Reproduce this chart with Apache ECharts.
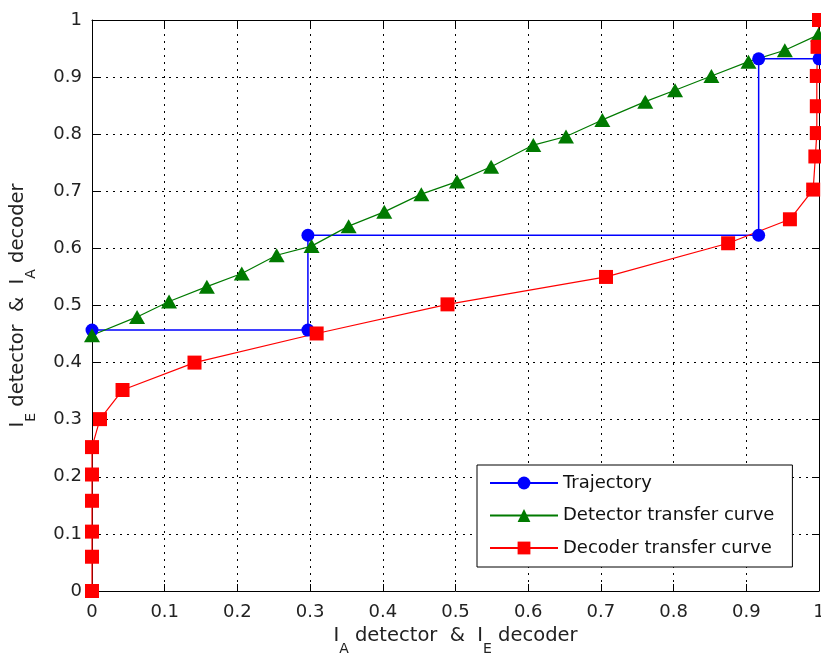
<!DOCTYPE html>
<html>
<head>
<meta charset="utf-8">
<script src="https://cdn.jsdelivr.net/npm/echarts@6/dist/echarts.min.js"></script>
<style>
  html, body { margin: 0; padding: 0; background: #fff; }
  #chart { width: 821px; height: 661px; }
</style>
</head>
<body>
<div id="chart"></div>
<script>
// values
const trajX = [0, 0.297, 0.297, 0.917, 0.917, 1.0];
const trajY = [0.457, 0.457, 0.623, 0.623, 0.932, 0.932];

const detX = [0, 0.062, 0.106, 0.158, 0.206, 0.254, 0.302, 0.353, 0.402, 0.453, 0.502,
  0.549, 0.607, 0.652, 0.702, 0.761, 0.802, 0.852, 0.903, 0.953, 0.999];
const detY = [0.448, 0.480, 0.507, 0.533, 0.556, 0.588, 0.604, 0.639, 0.664, 0.695, 0.717,
  0.743, 0.781, 0.796, 0.825, 0.857, 0.877, 0.902, 0.927, 0.947, 0.974];

const decX = [0, 0, 0, 0, 0, 0, 0.011, 0.042, 0.141, 0.309, 0.489,
  0.707, 0.875, 0.960, 0.992, 0.995, 0.997, 0.997, 0.997, 0.998, 1.0];
const decY = [0, 0.060, 0.104, 0.158, 0.204, 0.252, 0.301, 0.352, 0.400, 0.451, 0.502,
  0.550, 0.609, 0.651, 0.703, 0.761, 0.802, 0.849, 0.902, 0.953, 1.0];

const seriesNames = ["Trajectory", "Detector transfer curve", "Decoder transfer curve"];

function pairs(xs, ys) {
  return xs.map((x, i) => [x, ys[i]]);
}

const font = "DejaVu Sans, Verdana, sans-serif";
const nameRich = {
  b: { fontSize: 19.5, fontFamily: font, color: "#222", lineHeight: 22, verticalAlign: "top" },
  s: { fontSize: 14, fontFamily: font, color: "#222", lineHeight: 15, verticalAlign: "top", padding: [16, 0, 0, 0] },
};

const chart = echarts.init(document.getElementById("chart"));

const baseAxis = {
  type: "value",
  min: 0,
  max: 1,
  interval: 0.1,
  axisLine: { show: true, onZero: false, lineStyle: { color: "#000", width: 1 } },
  axisTick: { show: true, inside: true, length: 7, lineStyle: { color: "#000" } },
};

const option = {
  backgroundColor: "#fff",
  animation: false,
  grid: { left: 92, right: 2, top: 20, bottom: 70, outerBoundsMode: "none" },
  legend: {
    orient: "vertical",
    left: 477,
    top: 465,
    data: seriesNames,
    itemWidth: 68,
    itemHeight: 16,
    itemGap: 14.5,
    padding: [9, 18, 10, 12],
    borderColor: "#000",
    borderWidth: 1,
    backgroundColor: "#fff",
    textStyle: { fontSize: 18, fontFamily: font, color: "#111" },
  },
  xAxis: [
    {
      ...baseAxis,
      position: "bottom",
      axisLabel: { fontSize: 18, fontFamily: font, color: "#222", margin: 12 },
      splitLine: { show: true, lineStyle: { color: "#000", type: [2, 5], width: 1 } },
      name: "{b|I}{s|A}{b| detector  &  }{b|I}{s|E}{b| decoder}",
      nameLocation: "middle",
      nameGap: 35,
      nameTextStyle: { rich: nameRich },
    },
    {
      ...baseAxis,
      position: "top",
      axisLabel: { show: false },
      splitLine: { show: false },
    },
  ],
  yAxis: [
    {
      ...baseAxis,
      position: "left",
      axisLabel: { fontSize: 18, fontFamily: font, color: "#222", margin: 10 },
      splitLine: { show: true, lineStyle: { color: "#000", type: [2, 5], width: 1 } },
      name: "{b|I}{s|E}{b| detector  &  }{b|I}{s|A}{b| decoder}",
      nameLocation: "middle",
      nameGap: 62,
      nameTextStyle: { rich: nameRich },
    },
    {
      ...baseAxis,
      position: "right",
      axisLabel: { show: false },
      splitLine: { show: false },
    },
  ],
  series: [
    {
      name: seriesNames[0],
      type: "line",
      data: pairs(trajX, trajY),
      symbol: "circle",
      symbolSize: 13,
      clip: false,
      itemStyle: { color: "#0000ff" },
      lineStyle: { color: "#0000ff", width: 1.5 },
    },
    {
      name: seriesNames[1],
      type: "line",
      data: pairs(detX, detY),
      symbol: "triangle",
      symbolSize: [16, 14],
      clip: false,
      itemStyle: { color: "#007a00" },
      lineStyle: { color: "#007a00", width: 1.2 },
    },
    {
      name: seriesNames[2],
      type: "line",
      data: pairs(decX, decY),
      symbol: "rect",
      symbolSize: 14,
      clip: false,
      itemStyle: { color: "#ff0000" },
      lineStyle: { color: "#ff0000", width: 1.2 },
    },
  ],
};

chart.setOption(option);
</script>
</body>
</html>
